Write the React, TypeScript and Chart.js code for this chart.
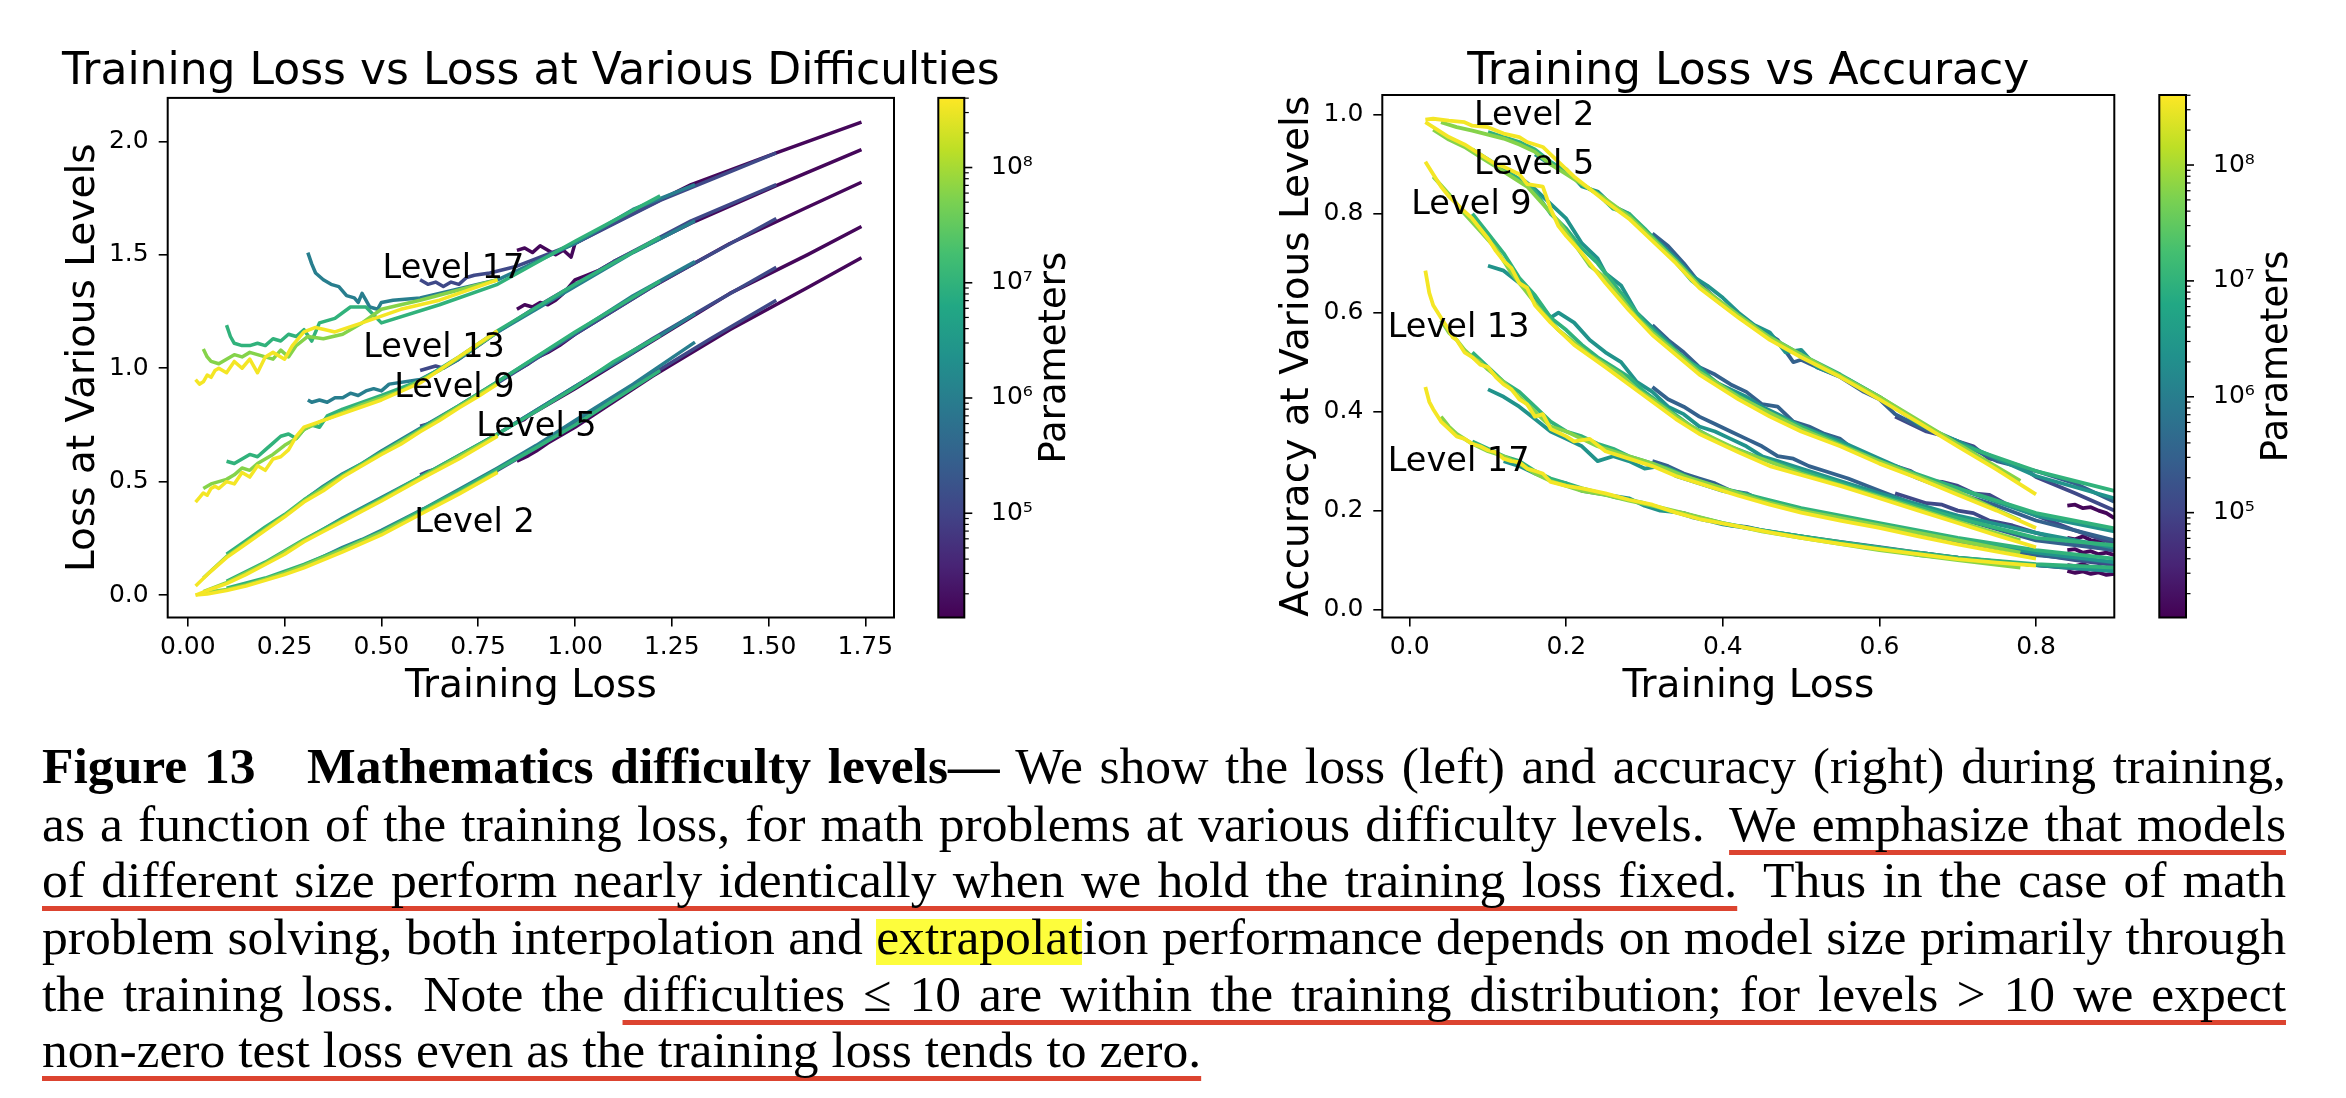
import React, { useEffect, useRef } from 'react';
import { Chart, registerables } from 'chart.js';

Chart.register(...registerables);

const FONT = '"DejaVu Sans", sans-serif';
Chart.defaults.font.family = FONT;
Chart.defaults.color = '#000';

type Pt = [number, number];
type Line = [string, Pt[]];

// ---- model sizes (colour = viridis on log10 Parameters) ----
const MODEL_KEYS = ['Y', 'L', 'G', 'T', 'M', 'B', 'I', 'P'];
const MODEL_PARAMS = [3.5e8, 6e7, 1e7, 2.5e6, 1e6, 3e5, 1.2e5, 1.5e4];

// ---- colorbar ----
const CB_MIN = 1.245e4;
const CB_MAX = 4.02e8;
const CB_TICKS = [
  2e4, 3e4, 4e4, 5e4, 6e4, 7e4, 8e4, 9e4,
  1e5, 2e5, 3e5, 4e5, 5e5, 6e5, 7e5, 8e5, 9e5,
  1e6, 2e6, 3e6, 4e6, 5e6, 6e6, 7e6, 8e6, 9e6,
  1e7, 2e7, 3e7, 4e7, 5e7, 6e7, 7e7, 8e7, 9e7,
  1e8, 2e8, 3e8, 4e8,
];
const SUP: Record<number, string> = { 4: '\u2074', 5: '\u2075', 6: '\u2076', 7: '\u2077', 8: '\u2078' };
const VIRIDIS = ['#440154', '#482475', '#414487', '#355f8d', '#2a788e', '#21918c', '#22a884', '#44bf70', '#7ad151', '#bddf26', '#fde725'];

// ---- left panel: Training Loss vs Loss at Various Difficulties ----
const LEFT_X_TICKS = [0, 0.25, 0.5, 0.75, 1.0, 1.25, 1.5, 1.75];
const LEFT_Y_TICKS = [0, 0.5, 1.0, 1.5, 2.0];
const LEFT_LABELS = ['Level 2', 'Level 5', 'Level 9', 'Level 13', 'Level 17'];
const LEFT_LABEL_X = [0.585, 0.745, 0.533, 0.453, 0.503];
const LEFT_LABEL_Y = [0.28, 0.70, 0.873, 1.05, 1.40];

const LOSS_L2: Line[] = [
  ['Y', [[0.02, 0.0], [0.05, 0.005], [0.1, 0.02], [0.15, 0.04], [0.2, 0.065], [0.25, 0.09], [0.3, 0.12], [0.35, 0.155], [0.4, 0.19], [0.45, 0.228], [0.5, 0.265], [0.6, 0.355], [0.7, 0.445], [0.8, 0.54]]],
  ['L', [[0.04, 0.01], [0.1, 0.025], [0.15, 0.045], [0.2, 0.07], [0.25, 0.098], [0.3, 0.13], [0.4, 0.2], [0.5, 0.275], [0.6, 0.36], [0.7, 0.45], [0.8, 0.545]]],
  ['G', [[0.1, 0.03], [0.2, 0.075], [0.3, 0.135], [0.4, 0.205], [0.5, 0.28], [0.6, 0.37], [0.7, 0.46], [0.8, 0.555], [0.9, 0.65], [1.0, 0.75], [1.1, 0.86], [1.22, 0.99]]],
  ['M', [[0.31, 0.14], [0.35, 0.17], [0.4, 0.21], [0.45, 0.245], [0.5, 0.285], [0.6, 0.372], [0.7, 0.465], [0.8, 0.56], [0.9, 0.66], [1.0, 0.77], [1.15, 0.93], [1.31, 1.115]]],
  ['I', [[0.6, 0.375], [0.63, 0.39], [0.65, 0.41], [0.68, 0.43], [0.7, 0.455], [0.8, 0.55], [0.9, 0.65], [1.0, 0.755], [1.2, 0.975], [1.35, 1.13], [1.52, 1.3]]],
  ['P', [[0.85, 0.59], [0.88, 0.615], [0.9, 0.635], [0.93, 0.67], [0.95, 0.69], [1.0, 0.74], [1.2, 0.965], [1.4, 1.17], [1.6, 1.355], [1.74, 1.487]]],
];
const LOSS_L5: Line[] = [
  ['Y', [[0.02, 0.0], [0.05, 0.02], [0.1, 0.05], [0.15, 0.09], [0.2, 0.135], [0.25, 0.18], [0.3, 0.235], [0.35, 0.28], [0.4, 0.325], [0.45, 0.37], [0.5, 0.415], [0.6, 0.51], [0.7, 0.6], [0.8, 0.70]]],
  ['L', [[0.04, 0.015], [0.1, 0.055], [0.2, 0.14], [0.3, 0.24], [0.4, 0.33], [0.5, 0.42], [0.6, 0.515], [0.7, 0.61], [0.8, 0.705]]],
  ['G', [[0.1, 0.06], [0.2, 0.145], [0.3, 0.245], [0.4, 0.335], [0.5, 0.425], [0.6, 0.52], [0.7, 0.615], [0.8, 0.71], [0.9, 0.81], [1.0, 0.915], [1.1, 1.03], [1.22, 1.145]]],
  ['M', [[0.31, 0.25], [0.35, 0.29], [0.4, 0.34], [0.45, 0.385], [0.5, 0.43], [0.55, 0.475], [0.6, 0.52], [0.7, 0.615], [0.8, 0.71], [1.0, 0.92], [1.15, 1.07], [1.31, 1.24]]],
  ['I', [[0.6, 0.53], [0.62, 0.545], [0.65, 0.56], [0.68, 0.595], [0.7, 0.61], [0.8, 0.71], [1.0, 0.92], [1.2, 1.13], [1.35, 1.28], [1.52, 1.445]]],
  ['P', [[0.85, 0.76], [0.87, 0.775], [0.88, 0.79], [0.9, 0.81], [0.95, 0.86], [1.0, 0.91], [1.2, 1.12], [1.4, 1.33], [1.6, 1.5], [1.74, 1.625]]],
];
const LOSS_L9: Line[] = [
  ['Y', [[0.02, 0.04], [0.05, 0.09], [0.1, 0.165], [0.15, 0.225], [0.2, 0.285], [0.25, 0.345], [0.3, 0.41], [0.35, 0.46], [0.4, 0.52], [0.45, 0.57], [0.5, 0.62], [0.55, 0.665], [0.6, 0.72], [0.65, 0.77], [0.7, 0.825], [0.75, 0.875], [0.8, 0.93]]],
  ['L', [[0.04, 0.075], [0.1, 0.17], [0.15, 0.23], [0.2, 0.29], [0.25, 0.35], [0.3, 0.415], [0.4, 0.525], [0.5, 0.625], [0.6, 0.725], [0.7, 0.83], [0.8, 0.935]]],
  ['G', [[0.1, 0.18], [0.15, 0.24], [0.2, 0.3], [0.25, 0.355], [0.3, 0.42], [0.35, 0.475], [0.4, 0.53], [0.5, 0.63], [0.6, 0.73], [0.7, 0.835], [0.8, 0.94], [1.0, 1.16], [1.22, 1.385]]],
  ['M', [[0.31, 0.43], [0.35, 0.48], [0.4, 0.535], [0.45, 0.58], [0.5, 0.635], [0.6, 0.735], [0.7, 0.835], [0.8, 0.94], [1.0, 1.155], [1.15, 1.32], [1.31, 1.47]]],
  ['I', [[0.6, 0.745], [0.62, 0.755], [0.64, 0.77], [0.66, 0.79], [0.7, 0.83], [0.75, 0.88], [0.8, 0.935], [1.0, 1.15], [1.22, 1.38], [1.52, 1.66]]],
  ['P', [[0.85, 0.99], [0.87, 1.01], [0.88, 1.02], [0.9, 1.045], [0.93, 1.07], [0.96, 1.1], [1.0, 1.15], [1.2, 1.36], [1.4, 1.55], [1.6, 1.71], [1.74, 1.82]]],
];
const LOSS_L13: Line[] = [
  ['Y', [[0.02, 0.41], [0.03, 0.43], [0.04, 0.45], [0.05, 0.44], [0.06, 0.47], [0.07, 0.48], [0.08, 0.47], [0.1, 0.5], [0.12, 0.49], [0.14, 0.54], [0.16, 0.52], [0.18, 0.57], [0.2, 0.55], [0.22, 0.6], [0.24, 0.61], [0.26, 0.64], [0.28, 0.7], [0.3, 0.74], [0.35, 0.77], [0.4, 0.8], [0.5, 0.86], [0.6, 0.935], [0.7, 1.05], [0.8, 1.165]]],
  ['L', [[0.04, 0.47], [0.06, 0.49], [0.08, 0.5], [0.1, 0.51], [0.12, 0.53], [0.14, 0.56], [0.16, 0.55], [0.18, 0.58], [0.2, 0.6], [0.22, 0.62], [0.25, 0.66], [0.28, 0.69], [0.3, 0.73], [0.35, 0.77], [0.45, 0.84], [0.55, 0.9], [0.65, 0.99], [0.8, 1.16]]],
  ['G', [[0.1, 0.59], [0.12, 0.58], [0.14, 0.6], [0.16, 0.62], [0.18, 0.61], [0.2, 0.64], [0.22, 0.67], [0.24, 0.7], [0.26, 0.71], [0.28, 0.69], [0.3, 0.73], [0.32, 0.75], [0.34, 0.74], [0.36, 0.79], [0.4, 0.82], [0.5, 0.88], [0.6, 0.945], [0.7, 1.05], [0.8, 1.165], [1.0, 1.37], [1.22, 1.578]]],
  ['M', [[0.31, 0.86], [0.32, 0.85], [0.34, 0.86], [0.36, 0.85], [0.38, 0.87], [0.4, 0.87], [0.42, 0.89], [0.44, 0.88], [0.46, 0.9], [0.48, 0.91], [0.5, 0.9], [0.52, 0.93], [0.6, 0.95], [0.7, 1.04], [0.8, 1.16], [1.0, 1.36], [1.15, 1.51], [1.31, 1.65]]],
  ['I', [[0.6, 0.99], [0.62, 1.0], [0.64, 1.01], [0.66, 1.0], [0.68, 1.02], [0.7, 1.04], [0.75, 1.1], [0.8, 1.16], [0.9, 1.27], [1.1, 1.47], [1.3, 1.65], [1.52, 1.81]]],
  ['P', [[0.85, 1.26], [0.87, 1.28], [0.89, 1.27], [0.91, 1.29], [0.93, 1.28], [0.95, 1.3], [0.97, 1.33], [1.0, 1.39], [1.03, 1.41], [1.06, 1.43], [1.1, 1.47], [1.3, 1.64], [1.52, 1.805], [1.74, 1.964]]],
];
const LOSS_L17: Line[] = [
  ['Y', [[0.02, 0.95], [0.03, 0.93], [0.04, 0.94], [0.05, 0.97], [0.06, 0.96], [0.07, 0.99], [0.08, 1.0], [0.1, 0.98], [0.12, 1.03], [0.14, 1.0], [0.16, 1.04], [0.18, 0.98], [0.2, 1.05], [0.22, 1.07], [0.25, 1.04], [0.27, 1.1], [0.3, 1.16], [0.33, 1.18], [0.38, 1.16], [0.45, 1.2], [0.55, 1.26], [0.65, 1.3], [0.8, 1.39]]],
  ['L', [[0.04, 1.085], [0.05, 1.05], [0.06, 1.03], [0.08, 1.02], [0.1, 1.04], [0.12, 1.06], [0.14, 1.05], [0.16, 1.07], [0.18, 1.06], [0.2, 1.05], [0.22, 1.04], [0.24, 1.08], [0.26, 1.05], [0.28, 1.1], [0.31, 1.14], [0.35, 1.13], [0.4, 1.15], [0.45, 1.2], [0.5, 1.26], [0.6, 1.3], [0.8, 1.39]]],
  ['G', [[0.1, 1.19], [0.11, 1.14], [0.12, 1.11], [0.14, 1.1], [0.16, 1.1], [0.18, 1.11], [0.2, 1.1], [0.22, 1.13], [0.24, 1.12], [0.26, 1.15], [0.28, 1.14], [0.3, 1.17], [0.32, 1.12], [0.34, 1.2], [0.38, 1.22], [0.42, 1.27], [0.46, 1.27], [0.5, 1.2], [0.65, 1.28], [0.8, 1.37], [1.0, 1.56], [1.22, 1.76]]],
  ['M', [[0.31, 1.51], [0.32, 1.46], [0.33, 1.42], [0.35, 1.39], [0.37, 1.37], [0.39, 1.36], [0.41, 1.32], [0.43, 1.31], [0.44, 1.29], [0.45, 1.33], [0.46, 1.3], [0.47, 1.27], [0.49, 1.26], [0.5, 1.29], [0.53, 1.3], [0.6, 1.31], [0.8, 1.39], [1.0, 1.55], [1.15, 1.7], [1.31, 1.81]]],
  ['I', [[0.6, 1.39], [0.62, 1.37], [0.64, 1.38], [0.66, 1.36], [0.68, 1.38], [0.7, 1.37], [0.72, 1.4], [0.74, 1.41], [0.78, 1.42], [0.85, 1.45], [1.0, 1.55], [1.22, 1.74], [1.52, 1.95]]],
  ['P', [[0.85, 1.52], [0.87, 1.53], [0.89, 1.51], [0.91, 1.54], [0.93, 1.52], [0.95, 1.5], [0.97, 1.52], [0.99, 1.49], [1.0, 1.55], [1.1, 1.64], [1.3, 1.81], [1.52, 1.95], [1.74, 2.085]]],
];

// ---- right panel: Training Loss vs Accuracy ----
const RIGHT_X_TICKS = [0, 0.2, 0.4, 0.6, 0.8];
const RIGHT_Y_TICKS = [0, 0.2, 0.4, 0.6, 0.8, 1.0];
const RIGHT_LABELS = ['Level 2', 'Level 5', 'Level 9', 'Level 13', 'Level 17'];
const RIGHT_LABEL_X = [0.082, 0.082, 0.002, -0.028, -0.028];
const RIGHT_LABEL_Y = [0.98, 0.88, 0.80, 0.55, 0.28];

const ACC_L2: Line[] = [
  ['Y', [[0.02, 0.99], [0.03, 0.992], [0.05, 0.988], [0.07, 0.985], [0.08, 0.978], [0.1, 0.975], [0.12, 0.962], [0.14, 0.955], [0.15, 0.945], [0.17, 0.935], [0.19, 0.905], [0.21, 0.875], [0.23, 0.85], [0.25, 0.825], [0.28, 0.79], [0.31, 0.745], [0.34, 0.70], [0.37, 0.65], [0.42, 0.59], [0.46, 0.545], [0.5, 0.51], [0.55, 0.47], [0.6, 0.425], [0.65, 0.378], [0.7, 0.33], [0.75, 0.283], [0.8, 0.233]]],
  ['L', [[0.04, 0.985], [0.06, 0.975], [0.08, 0.968], [0.1, 0.96], [0.12, 0.952], [0.14, 0.94], [0.16, 0.925], [0.18, 0.9], [0.2, 0.88], [0.22, 0.86], [0.25, 0.83], [0.28, 0.795], [0.31, 0.75], [0.34, 0.705], [0.37, 0.655], [0.42, 0.595], [0.46, 0.55], [0.5, 0.515], [0.6, 0.43], [0.7, 0.335], [0.78, 0.26]]],
  ['G', [[0.1, 0.965], [0.12, 0.955], [0.14, 0.945], [0.16, 0.93], [0.18, 0.905], [0.2, 0.885], [0.22, 0.86], [0.24, 0.84], [0.26, 0.81], [0.28, 0.8], [0.3, 0.77], [0.33, 0.72], [0.36, 0.665], [0.4, 0.615], [0.45, 0.56], [0.5, 0.515], [0.55, 0.475], [0.6, 0.43], [0.65, 0.38], [0.7, 0.335], [0.8, 0.28], [0.9, 0.24], [1.0, 0.2]]],
  ['T', [[0.16, 0.92], [0.18, 0.9], [0.2, 0.89], [0.22, 0.855], [0.24, 0.845], [0.26, 0.815], [0.28, 0.8], [0.3, 0.765], [0.32, 0.74], [0.34, 0.71], [0.36, 0.675], [0.38, 0.655], [0.4, 0.63], [0.42, 0.6], [0.44, 0.575], [0.46, 0.56], [0.48, 0.52], [0.5, 0.525], [0.52, 0.49], [0.56, 0.465], [0.6, 0.43], [0.65, 0.375], [0.7, 0.34], [0.8, 0.27], [0.9, 0.225], [1.0, 0.18]]],
  ['B', [[0.31, 0.76], [0.33, 0.735], [0.35, 0.7], [0.37, 0.66], [0.39, 0.63], [0.41, 0.605], [0.43, 0.58], [0.45, 0.565], [0.47, 0.545], [0.49, 0.5], [0.5, 0.505], [0.52, 0.49], [0.55, 0.47], [0.58, 0.44], [0.6, 0.425], [0.62, 0.395], [0.65, 0.37], [0.7, 0.34], [0.75, 0.3], [0.8, 0.28], [0.85, 0.255], [0.9, 0.218], [1.0, 0.17]]],
  ['I', [[0.62, 0.39], [0.64, 0.375], [0.66, 0.36], [0.68, 0.352], [0.7, 0.34], [0.72, 0.33], [0.74, 0.305], [0.76, 0.3], [0.78, 0.29], [0.8, 0.268], [0.85, 0.235], [0.9, 0.2], [1.0, 0.15]]],
  ['P', [[0.84, 0.21], [0.85, 0.212], [0.86, 0.205], [0.87, 0.207], [0.88, 0.2], [0.89, 0.195], [0.9, 0.185], [0.95, 0.16]]],
];
const ACC_L5: Line[] = [
  ['Y', [[0.02, 0.985], [0.03, 0.975], [0.05, 0.955], [0.07, 0.94], [0.09, 0.92], [0.11, 0.9], [0.12, 0.895], [0.14, 0.88], [0.15, 0.86], [0.17, 0.855], [0.18, 0.81], [0.19, 0.775], [0.2, 0.755], [0.22, 0.72], [0.25, 0.66], [0.28, 0.605], [0.31, 0.555], [0.34, 0.515], [0.37, 0.475], [0.42, 0.425], [0.46, 0.39], [0.5, 0.36], [0.55, 0.33], [0.6, 0.295], [0.65, 0.265], [0.7, 0.232], [0.75, 0.2], [0.8, 0.165]]],
  ['L', [[0.03, 0.97], [0.05, 0.95], [0.07, 0.935], [0.09, 0.915], [0.11, 0.895], [0.13, 0.875], [0.15, 0.855], [0.17, 0.82], [0.19, 0.785], [0.21, 0.74], [0.23, 0.695], [0.25, 0.67], [0.27, 0.63], [0.29, 0.59], [0.31, 0.56], [0.34, 0.52], [0.37, 0.48], [0.42, 0.43], [0.5, 0.365], [0.6, 0.3], [0.7, 0.238], [0.78, 0.18]]],
  ['G', [[0.08, 0.93], [0.1, 0.91], [0.12, 0.89], [0.14, 0.87], [0.16, 0.845], [0.18, 0.8], [0.2, 0.77], [0.22, 0.73], [0.24, 0.7], [0.26, 0.66], [0.28, 0.62], [0.3, 0.58], [0.32, 0.55], [0.35, 0.51], [0.4, 0.45], [0.45, 0.405], [0.5, 0.37], [0.55, 0.335], [0.6, 0.3], [0.7, 0.245], [0.8, 0.195], [0.9, 0.164], [1.0, 0.14]]],
  ['T', [[0.14, 0.875], [0.16, 0.85], [0.18, 0.82], [0.2, 0.79], [0.22, 0.74], [0.24, 0.71], [0.25, 0.68], [0.27, 0.655], [0.29, 0.6], [0.31, 0.57], [0.33, 0.54], [0.35, 0.505], [0.37, 0.49], [0.39, 0.46], [0.41, 0.445], [0.43, 0.43], [0.45, 0.41], [0.47, 0.395], [0.5, 0.37], [0.55, 0.34], [0.6, 0.305], [0.65, 0.27], [0.7, 0.245], [0.8, 0.19], [0.9, 0.158], [1.0, 0.13]]],
  ['B', [[0.31, 0.575], [0.33, 0.545], [0.35, 0.52], [0.37, 0.49], [0.39, 0.475], [0.41, 0.455], [0.43, 0.44], [0.45, 0.415], [0.47, 0.41], [0.49, 0.38], [0.51, 0.37], [0.53, 0.355], [0.55, 0.345], [0.57, 0.32], [0.6, 0.3], [0.65, 0.265], [0.7, 0.235], [0.75, 0.21], [0.8, 0.18], [0.9, 0.14], [1.0, 0.11]]],
  ['I', [[0.62, 0.29], [0.64, 0.28], [0.66, 0.26], [0.68, 0.258], [0.7, 0.25], [0.72, 0.235], [0.74, 0.232], [0.76, 0.215], [0.8, 0.19], [0.85, 0.16], [0.9, 0.133], [1.0, 0.1]]],
  ['P', [[0.84, 0.145], [0.85, 0.142], [0.86, 0.148], [0.87, 0.14], [0.88, 0.138], [0.89, 0.13], [0.9, 0.128], [0.95, 0.11]]],
];
const ACC_L9: Line[] = [
  ['Y', [[0.02, 0.905], [0.03, 0.88], [0.04, 0.855], [0.05, 0.835], [0.06, 0.82], [0.07, 0.805], [0.08, 0.79], [0.09, 0.77], [0.1, 0.75], [0.11, 0.725], [0.12, 0.705], [0.13, 0.69], [0.14, 0.66], [0.15, 0.65], [0.16, 0.615], [0.18, 0.58], [0.21, 0.535], [0.25, 0.49], [0.28, 0.455], [0.31, 0.42], [0.34, 0.385], [0.37, 0.355], [0.42, 0.318], [0.46, 0.29], [0.5, 0.272], [0.55, 0.25], [0.6, 0.225], [0.65, 0.2], [0.7, 0.175], [0.75, 0.15], [0.8, 0.126]]],
  ['L', [[0.03, 0.875], [0.05, 0.84], [0.07, 0.8], [0.09, 0.765], [0.11, 0.73], [0.13, 0.68], [0.15, 0.64], [0.17, 0.6], [0.19, 0.565], [0.21, 0.54], [0.23, 0.515], [0.25, 0.495], [0.27, 0.475], [0.29, 0.445], [0.31, 0.425], [0.34, 0.39], [0.37, 0.36], [0.42, 0.322], [0.5, 0.275], [0.6, 0.228], [0.7, 0.178], [0.78, 0.14]]],
  ['G', [[0.08, 0.8], [0.1, 0.76], [0.12, 0.72], [0.14, 0.67], [0.16, 0.635], [0.18, 0.59], [0.2, 0.565], [0.22, 0.535], [0.24, 0.51], [0.26, 0.49], [0.28, 0.47], [0.3, 0.44], [0.33, 0.405], [0.36, 0.37], [0.4, 0.335], [0.45, 0.305], [0.5, 0.28], [0.55, 0.255], [0.6, 0.23], [0.7, 0.185], [0.8, 0.145], [0.9, 0.13], [1.0, 0.11]]],
  ['T', [[0.1, 0.695], [0.12, 0.685], [0.14, 0.66], [0.16, 0.63], [0.18, 0.59], [0.19, 0.6], [0.21, 0.58], [0.23, 0.545], [0.25, 0.52], [0.27, 0.5], [0.29, 0.46], [0.31, 0.44], [0.33, 0.41], [0.35, 0.395], [0.37, 0.37], [0.39, 0.36], [0.41, 0.345], [0.43, 0.33], [0.45, 0.31], [0.47, 0.3], [0.5, 0.285], [0.55, 0.26], [0.6, 0.235], [0.7, 0.19], [0.8, 0.155], [0.9, 0.125], [1.0, 0.1]]],
  ['B', [[0.31, 0.45], [0.33, 0.425], [0.35, 0.41], [0.37, 0.39], [0.39, 0.375], [0.41, 0.36], [0.43, 0.345], [0.45, 0.33], [0.47, 0.31], [0.49, 0.305], [0.51, 0.29], [0.53, 0.28], [0.56, 0.265], [0.6, 0.24], [0.65, 0.21], [0.7, 0.185], [0.8, 0.14], [0.9, 0.12], [1.0, 0.1]]],
  ['I', [[0.62, 0.235], [0.64, 0.225], [0.66, 0.215], [0.68, 0.212], [0.7, 0.2], [0.72, 0.195], [0.74, 0.18], [0.77, 0.17], [0.8, 0.155], [0.85, 0.135], [0.9, 0.119], [1.0, 0.09]]],
  ['P', [[0.84, 0.12], [0.85, 0.122], [0.86, 0.115], [0.87, 0.118], [0.88, 0.112], [0.89, 0.115], [0.9, 0.11], [0.95, 0.1]]],
];
const ACC_L13: Line[] = [
  ['Y', [[0.02, 0.685], [0.025, 0.64], [0.03, 0.615], [0.04, 0.59], [0.05, 0.565], [0.055, 0.55], [0.06, 0.545], [0.07, 0.52], [0.08, 0.51], [0.09, 0.495], [0.1, 0.49], [0.11, 0.47], [0.12, 0.455], [0.13, 0.445], [0.14, 0.425], [0.15, 0.415], [0.16, 0.39], [0.17, 0.395], [0.18, 0.365], [0.2, 0.35], [0.21, 0.34], [0.23, 0.345], [0.25, 0.32], [0.28, 0.305], [0.31, 0.29], [0.34, 0.27], [0.37, 0.255], [0.42, 0.23], [0.46, 0.212], [0.5, 0.196], [0.55, 0.18], [0.6, 0.165], [0.65, 0.148], [0.7, 0.132], [0.75, 0.117], [0.8, 0.103]]],
  ['L', [[0.04, 0.585], [0.05, 0.56], [0.06, 0.545], [0.07, 0.525], [0.08, 0.51], [0.09, 0.5], [0.1, 0.485], [0.12, 0.46], [0.14, 0.43], [0.16, 0.4], [0.18, 0.37], [0.2, 0.36], [0.22, 0.345], [0.24, 0.33], [0.26, 0.32], [0.28, 0.31], [0.31, 0.295], [0.35, 0.27], [0.4, 0.245], [0.45, 0.22], [0.5, 0.2], [0.6, 0.17], [0.7, 0.14], [0.78, 0.115]]],
  ['G', [[0.08, 0.52], [0.1, 0.49], [0.12, 0.46], [0.14, 0.44], [0.16, 0.41], [0.18, 0.38], [0.2, 0.36], [0.22, 0.35], [0.24, 0.335], [0.26, 0.325], [0.28, 0.31], [0.3, 0.3], [0.33, 0.285], [0.36, 0.265], [0.4, 0.245], [0.45, 0.225], [0.5, 0.205], [0.6, 0.175], [0.7, 0.145], [0.8, 0.12], [0.9, 0.103], [1.0, 0.09]]],
  ['T', [[0.1, 0.445], [0.12, 0.43], [0.14, 0.41], [0.16, 0.385], [0.18, 0.36], [0.2, 0.345], [0.22, 0.33], [0.24, 0.3], [0.26, 0.31], [0.28, 0.3], [0.3, 0.285], [0.32, 0.29], [0.34, 0.27], [0.36, 0.26], [0.38, 0.25], [0.4, 0.24], [0.43, 0.23], [0.46, 0.215], [0.5, 0.2], [0.55, 0.185], [0.6, 0.168], [0.7, 0.14], [0.8, 0.115], [0.9, 0.096], [1.0, 0.08]]],
  ['B', [[0.31, 0.3], [0.33, 0.29], [0.35, 0.275], [0.37, 0.265], [0.39, 0.255], [0.41, 0.24], [0.43, 0.235], [0.45, 0.22], [0.47, 0.215], [0.5, 0.2], [0.55, 0.185], [0.6, 0.168], [0.65, 0.15], [0.7, 0.135], [0.8, 0.11], [0.9, 0.095], [1.0, 0.08]]],
  ['I', [[0.62, 0.165], [0.64, 0.158], [0.66, 0.153], [0.68, 0.148], [0.7, 0.14], [0.72, 0.138], [0.75, 0.125], [0.8, 0.112], [0.85, 0.1], [0.9, 0.09], [1.0, 0.075]]],
  ['P', [[0.84, 0.09], [0.85, 0.088], [0.86, 0.092], [0.87, 0.085], [0.88, 0.087], [0.89, 0.082], [0.9, 0.084], [0.95, 0.075]]],
];
const ACC_L17: Line[] = [
  ['Y', [[0.02, 0.45], [0.025, 0.42], [0.03, 0.405], [0.04, 0.38], [0.05, 0.365], [0.06, 0.35], [0.07, 0.345], [0.08, 0.335], [0.09, 0.33], [0.1, 0.322], [0.11, 0.318], [0.12, 0.305], [0.13, 0.3], [0.14, 0.298], [0.15, 0.285], [0.16, 0.28], [0.17, 0.275], [0.18, 0.258], [0.2, 0.25], [0.22, 0.245], [0.25, 0.235], [0.28, 0.222], [0.31, 0.212], [0.34, 0.196], [0.37, 0.183], [0.42, 0.168], [0.46, 0.156], [0.5, 0.145], [0.55, 0.133], [0.6, 0.122], [0.65, 0.112], [0.7, 0.102], [0.75, 0.095], [0.8, 0.089]]],
  ['L', [[0.04, 0.39], [0.05, 0.37], [0.06, 0.355], [0.07, 0.345], [0.08, 0.335], [0.1, 0.32], [0.12, 0.31], [0.14, 0.295], [0.16, 0.275], [0.18, 0.26], [0.2, 0.25], [0.22, 0.24], [0.25, 0.232], [0.28, 0.22], [0.31, 0.21], [0.35, 0.195], [0.4, 0.175], [0.45, 0.158], [0.5, 0.145], [0.6, 0.12], [0.7, 0.1], [0.78, 0.085]]],
  ['G', [[0.08, 0.34], [0.1, 0.325], [0.12, 0.31], [0.14, 0.3], [0.16, 0.28], [0.18, 0.265], [0.2, 0.255], [0.22, 0.245], [0.24, 0.237], [0.26, 0.228], [0.28, 0.222], [0.3, 0.215], [0.33, 0.2], [0.36, 0.19], [0.4, 0.175], [0.45, 0.16], [0.5, 0.148], [0.6, 0.125], [0.7, 0.105], [0.8, 0.092], [0.9, 0.085], [1.0, 0.075]]],
  ['T', [[0.12, 0.3], [0.14, 0.29], [0.16, 0.275], [0.18, 0.262], [0.2, 0.255], [0.22, 0.24], [0.24, 0.235], [0.26, 0.23], [0.28, 0.225], [0.3, 0.21], [0.32, 0.2], [0.34, 0.197], [0.36, 0.187], [0.38, 0.18], [0.4, 0.172], [0.43, 0.165], [0.46, 0.158], [0.5, 0.148], [0.55, 0.135], [0.6, 0.125], [0.65, 0.11], [0.7, 0.103], [0.8, 0.09], [0.9, 0.078], [1.0, 0.07]]],
  ['B', [[0.31, 0.21], [0.33, 0.2], [0.35, 0.195], [0.37, 0.185], [0.39, 0.178], [0.41, 0.17], [0.43, 0.167], [0.45, 0.16], [0.47, 0.155], [0.5, 0.148], [0.55, 0.137], [0.6, 0.126], [0.65, 0.115], [0.7, 0.105], [0.8, 0.09], [0.9, 0.08], [1.0, 0.07]]],
  ['I', [[0.62, 0.12], [0.64, 0.115], [0.66, 0.113], [0.68, 0.108], [0.7, 0.105], [0.72, 0.1], [0.75, 0.097], [0.8, 0.09], [0.85, 0.083], [0.9, 0.078], [1.0, 0.065]]],
  ['P', [[0.84, 0.078], [0.85, 0.074], [0.86, 0.077], [0.87, 0.072], [0.88, 0.075], [0.89, 0.07], [0.9, 0.072], [0.95, 0.065]]],
];

// ---- caption ----
const CAPTION_BASELINES = [783.3, 840.7, 897.3, 954, 1010.7, 1066.7];

// ---------- helpers ----------
function hexToRgb(h: string) {
  return [parseInt(h.slice(1, 3), 16), parseInt(h.slice(3, 5), 16), parseInt(h.slice(5, 7), 16)];
}
function viridis(t: number) {
  const u = Math.min(1, Math.max(0, t));
  const n = VIRIDIS.length - 1;
  const f = u * n;
  const i = Math.min(n - 1, Math.floor(f));
  const r = f - i;
  const a = hexToRgb(VIRIDIS[i]);
  const b = hexToRgb(VIRIDIS[i + 1]);
  const c = a.map((v, k) => Math.round(v + (b[k] - v) * r));
  return `rgb(${c[0]},${c[1]},${c[2]})`;
}
function colorFor(key: string) {
  const p = MODEL_PARAMS[MODEL_KEYS.indexOf(key)];
  const lo = Math.log10(CB_MIN);
  const hi = Math.log10(CB_MAX);
  return viridis((Math.log10(p) - lo) / (hi - lo));
}
function isMajor(v: number) {
  const l = Math.log10(v);
  return Math.abs(l - Math.round(l)) < 1e-9;
}

const levelPlugin = {
  id: 'levelText',
  afterDatasetsDraw(chart: any, _args: any, opts: any) {
    const { ctx, chartArea: a } = chart;
    const xs = chart.scales.x;
    const ys = chart.scales.y;
    ctx.save();
    ctx.font = `${opts.size}px ${FONT}`;
    ctx.fillStyle = '#000';
    ctx.textAlign = 'left';
    ctx.textBaseline = 'alphabetic';
    opts.labels.forEach((t: string, i: number) => {
      ctx.fillText(t, xs.getPixelForValue(opts.lx[i]), ys.getPixelForValue(opts.ly[i]));
    });
    ctx.strokeStyle = '#000';
    ctx.lineWidth = 2;
    ctx.strokeRect(a.left, a.top, a.right - a.left, a.bottom - a.top);
    // axes title, centred over the plotting area
    ctx.font = `44px ${FONT}`;
    ctx.textAlign = 'center';
    ctx.fillText(opts.title, (a.left + a.right) / 2, opts.titleBaseline);
    ctx.restore();
  },
};

const cbarPlugin = {
  id: 'cbar',
  afterDraw(chart: any, _args: any, opts: any) {
    const { ctx, chartArea: a } = chart;
    const ys = chart.scales.y;
    ctx.save();
    const g = ctx.createLinearGradient(0, a.bottom, 0, a.top);
    VIRIDIS.forEach((c, i) => g.addColorStop(i / (VIRIDIS.length - 1), c));
    ctx.fillStyle = g;
    ctx.fillRect(a.left, a.top, a.right - a.left, a.bottom - a.top);
    ctx.strokeStyle = '#000';
    ctx.lineWidth = 2;
    ctx.strokeRect(a.left, a.top, a.right - a.left, a.bottom - a.top);
    CB_TICKS.forEach((v) => {
      const y = ys.getPixelForValue(v);
      const maj = isMajor(v);
      ctx.lineWidth = maj ? 1.6 : 1.2;
      ctx.beginPath();
      ctx.moveTo(a.right, y);
      ctx.lineTo(a.right + (maj ? 8 : 4.5), y);
      ctx.stroke();
    });
    ctx.translate(opts.labelX, (a.top + a.bottom) / 2);
    ctx.rotate(-Math.PI / 2);
    ctx.font = `37px ${FONT}`;
    ctx.fillStyle = '#000';
    ctx.textAlign = 'center';
    ctx.textBaseline = 'alphabetic';
    ctx.fillText(opts.label, 0, 0);
    ctx.restore();
  },
};

function makeMain(canvas: HTMLCanvasElement, o: any) {
  const datasets: any[] = [];
  MODEL_KEYS.forEach((key) => {
    o.levels.forEach((lev: Line[]) => {
      lev.forEach(([k, pts]) => {
        if (k !== key) return;
        datasets.push({
          data: pts.map(([x, y]) => ({ x, y })),
          borderColor: colorFor(k),
          backgroundColor: colorFor(k),
          borderWidth: o.lw,
          pointRadius: 0,
          showLine: true,
          fill: false,
          tension: 0,
          borderJoinStyle: 'round',
        });
      });
    });
  });
  const tickFont = { family: FONT, size: 25 };
  const labelFont = { family: FONT, size: 39, weight: 'normal' };
  return new Chart(canvas, {
    type: 'scatter',
    data: { datasets },
    options: {
      animation: false,
      responsive: false,
      maintainAspectRatio: false,
      events: [],
      layout: { autoPadding: false, padding: { left: 0, top: o.plotTop, right: o.padR, bottom: 0 } },
      plugins: {
        legend: { display: false },
        tooltip: { enabled: false },
        title: { display: false },
        levelText: { labels: o.labels, lx: o.lx, ly: o.ly, size: 33.5, title: o.title, titleBaseline: 84 },
      } as any,
      scales: {
        x: {
          type: 'linear',
          min: o.xMin,
          max: o.xMax,
          afterBuildTicks: (s: any) => { s.ticks = o.xTicks.map((v: number) => ({ value: v })); },
          afterFit: (s: any) => { s.height = o.xH; },
          grid: { display: true, drawOnChartArea: false, drawTicks: true, tickLength: 9, color: '#000', lineWidth: 1.6 },
          border: { display: false },
          ticks: { autoSkip: false, maxRotation: 0, padding: 6, font: tickFont, color: '#000', callback: (v: any) => Number(v).toFixed(o.xDec) },
          title: { display: true, text: 'Training Loss', color: '#000', font: labelFont, padding: { top: 0, bottom: 19.6 } },
        },
        y: {
          type: 'linear',
          min: o.yMin,
          max: o.yMax,
          afterBuildTicks: (s: any) => { s.ticks = o.yTicks.map((v: number) => ({ value: v })); },
          afterFit: (s: any) => { s.width = o.yW; },
          grid: { display: true, drawOnChartArea: false, drawTicks: true, tickLength: 9, color: '#000', lineWidth: 1.6 },
          border: { display: false },
          ticks: { autoSkip: false, padding: 10, font: tickFont, color: '#000', callback: (v: any) => Number(v).toFixed(1) },
          title: { display: true, text: o.yTitle, color: '#000', font: labelFont, padding: { top: o.yTitlePad, bottom: 0 } },
        },
      } as any,
    },
    plugins: [levelPlugin],
  } as any);
}

function makeCbar(canvas: HTMLCanvasElement, o: any) {
  return new Chart(canvas, {
    type: 'scatter',
    data: { datasets: [] },
    options: {
      animation: false,
      responsive: false,
      maintainAspectRatio: false,
      events: [],
      layout: { autoPadding: false, padding: { left: o.padL, top: o.top, bottom: o.bottom, right: 0 } },
      plugins: {
        legend: { display: false },
        tooltip: { enabled: false },
        cbar: { label: 'Parameters', labelX: o.labelX },
      } as any,
      scales: {
        x: { display: false },
        y: {
          type: 'logarithmic',
          position: 'right',
          min: CB_MIN,
          max: CB_MAX,
          afterBuildTicks: (s: any) => { s.ticks = CB_TICKS.map((v) => ({ value: v })); },
          afterFit: (s: any) => { s.width = o.scaleW; },
          grid: { display: false },
          border: { display: false },
          ticks: {
            autoSkip: false,
            padding: o.tickPad,
            color: '#000',
            font: { family: FONT, size: 25 },
            callback: (v: any) => (isMajor(Number(v)) ? '10' + SUP[Math.round(Math.log10(Number(v)))] : ''),
          },
        },
      } as any,
    },
    plugins: [cbarPlugin],
  } as any);
}

const U = ({ children }: any) => (
  <span
    style={{
      textDecorationLine: 'underline',
      textDecorationColor: '#dc4430',
      textDecorationThickness: '5px',
      textUnderlineOffset: '9px',
      textDecorationSkipInk: 'none',
    } as any}
  >
    {children}
  </span>
);
const HL = ({ children }: any) => (
  <span style={{ background: 'linear-gradient(to bottom, transparent 20%, #fdfd3c 20%)' }}>{children}</span>
);

const CAP_FS = 51.6;
const CAP_LH = 57;
function capTop(b: number) {
  return b - 0.891 * CAP_FS - (CAP_LH - 1.107 * CAP_FS) / 2;
}
function lineStyle(i: number, last: boolean): any {
  return {
    position: 'absolute',
    left: 42,
    width: 2244,
    top: capTop(CAPTION_BASELINES[i]),
    fontFamily: '"Liberation Serif", "Times New Roman", serif',
    fontSize: CAP_FS,
    lineHeight: CAP_LH + 'px',
    color: '#000',
    textAlign: last ? 'left' : 'justify',
    textAlignLast: last ? 'left' : 'justify',
    whiteSpace: 'nowrap',
  };
}

export default function App() {
  const leftRef = useRef<HTMLCanvasElement>(null);
  const leftCbRef = useRef<HTMLCanvasElement>(null);
  const rightRef = useRef<HTMLCanvasElement>(null);
  const rightCbRef = useRef<HTMLCanvasElement>(null);

  useEffect(() => {
    document.body.style.margin = '0';
    const charts: Chart[] = [];
    charts.push(
      makeMain(leftRef.current!, {
        levels: [LOSS_L2, LOSS_L5, LOSS_L9, LOSS_L13, LOSS_L17],
        lw: 3.5,
        title: 'Training Loss vs Loss at Various Difficulties',
        yTitle: 'Loss at Various Levels',
        xMin: -0.052, xMax: 1.824, yMin: -0.099, yMax: 2.192,
        xTicks: LEFT_X_TICKS, yTicks: LEFT_Y_TICKS, xDec: 2,
        padR: 146, yW: 167.7, xH: 112.5, plotTop: 97.9, yTitlePad: 60,
        labels: LEFT_LABELS, lx: LEFT_LABEL_X, ly: LEFT_LABEL_Y,
      })
    );
    charts.push(
      makeMain(rightRef.current!, {
        levels: [ACC_L2, ACC_L5, ACC_L9, ACC_L13, ACC_L17],
        lw: 3.8,
        title: 'Training Loss vs Accuracy',
        yTitle: 'Accuracy at Various Levels',
        xMin: -0.035, xMax: 0.9, yMin: -0.016, yMax: 1.04,
        xTicks: RIGHT_X_TICKS, yTicks: RIGHT_Y_TICKS, xDec: 1,
        padR: 25.7, yW: 142.3, xH: 112.5, plotTop: 95, yTitlePad: 34.6,
        labels: RIGHT_LABELS, lx: RIGHT_LABEL_X, ly: RIGHT_LABEL_Y,
      })
    );
    charts.push(makeCbar(leftCbRef.current!, { padL: 13.3, top: 97.9, bottom: 112.5, scaleW: 140.7, tickPad: 18.7, labelX: 140 }));
    charts.push(makeCbar(rightCbRef.current!, { padL: 13.3, top: 95, bottom: 112.5, scaleW: 160, tickPad: 19, labelX: 141 }));
    return () => charts.forEach((c) => c.destroy());
  }, []);

  return (
    <div style={{ position: 'absolute', left: 0, top: 0, width: 2346, height: 1098, background: '#fff', overflow: 'hidden' }}>
      <canvas ref={leftRef} width={1040} height={730} style={{ position: 'absolute', left: 0, top: 0 }} />
      <canvas ref={leftCbRef} width={180} height={730} style={{ position: 'absolute', left: 925, top: 0 }} />
      <canvas ref={rightRef} width={900} height={730} style={{ position: 'absolute', left: 1240, top: 0 }} />
      <canvas ref={rightCbRef} width={200} height={730} style={{ position: 'absolute', left: 2146, top: 0 }} />

      <div style={lineStyle(0, false)}>
        <b>Figure 13</b>{'\u2003'}<b>Mathematics difficulty levels—</b> We show the loss (left) and accuracy (right) during training,
      </div>
      <div style={lineStyle(1, false)}>
        as a function of the training loss, for math problems at various difficulty levels.{'\u2009'} <U>We emphasize that models</U>
      </div>
      <div style={lineStyle(2, false)}>
        <U>of different size perform nearly identically when we hold the training loss fixed.</U>{'\u2009'} Thus in the case of math
      </div>
      <div style={lineStyle(3, false)}>
        problem solving, both interpolation and <HL>extrapolat</HL>ion performance depends on model size primarily through
      </div>
      <div style={lineStyle(4, false)}>
        the training loss.{'\u2009'} Note the <U>difficulties ≤ 10 are within the training distribution; for levels &gt; 10 we expect</U>
      </div>
      <div style={lineStyle(5, true)}>
        <U>non-zero test loss even as the training loss tends to zero.</U>
      </div>
    </div>
  );
}
